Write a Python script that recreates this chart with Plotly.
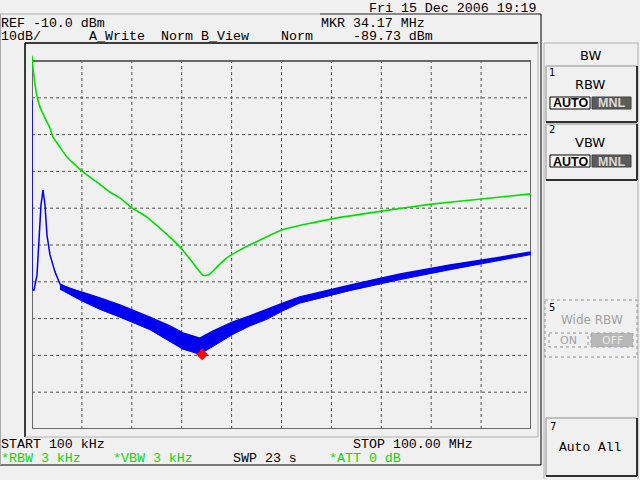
import plotly.graph_objects as go

green_freq = [0.1, 0.3, 1.04, 1.7, 2.7, 3.7, 4.3, 5.7, 7.1, 8.3, 10.1, 13.1, 15.7, 17.7,
              20.1, 23.1, 25.7, 28.3, 30.3, 32.3, 34.3, 35.1, 35.7, 37.1, 39.1, 41.7,
              50.1, 60.1, 70.1, 80.1, 90.1, 100.0]
green_dbm = [-8.6, -11.9, -19.2, -22.5, -25.5, -28.2, -30.7, -33.4, -36.1, -37.7, -39.9,
             -42.9, -45.6, -47.2, -49.9, -52.4, -55.4, -58.6, -61.4, -64.9, -68.2, -68.2,
             -67.9, -66.0, -63.5, -61.4, -55.9, -52.9, -50.8, -48.9, -47.5, -46.1]

blue_freq = [0.1, 0.1, 0.5, 1.1, 1.5, 1.9, 2.3, 2.7, 3.1, 3.7, 4.7, 5.7, 7.7, 10.1, 13.7,
             17.7, 23.7, 27.7, 30.3, 33.7, 36.3, 40.3, 43.7, 47.1, 50.3, 53.7, 63.7, 73.8,
             83.8, 93.8, 100.0]
blue_dbm = [-20.6, -72.2, -72.2, -68.2, -58.6, -49.1, -45.1, -49.1, -57.3, -62.7, -67.3,
            -70.6, -72.0, -72.8, -74.4, -76.3, -79.6, -82.0, -83.9, -85.3, -83.4, -80.9,
            -79.3, -77.4, -75.8, -74.1, -70.9, -67.9, -65.4, -63.3, -61.9]

band_freq = [5.7, 10.1, 13.7, 17.7, 23.7, 27.7, 30.3, 33.7, 36.3, 40.3, 43.7, 47.1, 50.3,
             53.7, 63.7, 73.8, 83.8, 93.8, 100.0]
band_upper = [-70.6, -72.8, -74.4, -76.3, -79.6, -82.0, -83.9, -85.3, -83.4, -80.9, -79.3,
              -77.4, -75.8, -74.1, -70.9, -67.9, -65.4, -63.3, -61.9]
band_lower = [-72.0, -75.2, -77.5, -79.6, -83.0, -86.3, -88.3, -89.7, -87.5, -84.3, -82.0,
              -80.2, -77.9, -75.8, -72.4, -69.4, -66.7, -64.2, -62.6]

marker_freq = [34.17]
marker_dbm = [-89.73]

start_mhz = 0.1
stop_mhz = 100.0
ref_dbm = -10.0
db_per_div = 10.0
n_div = 10

# ---------------- layout helpers ----------------
W, H = 640, 480
BG = "#f0f0f0"
GREEN = "#00e000"
BLUE = "#0000f0"
MONO = "Liberation Mono, DejaVu Sans Mono, monospace"
FS = 13.3


def px(x):
    return x / W


def py(y):
    return 1 - y / H


# plot area in pixels: grid 32..531 x 61..429, extra headroom to y=50
gx0, gx1, gy0, gy1, top_pix = 32, 531, 61, 429, 50
bottom_db = ref_dbm - n_div * db_per_div
y_top = bottom_db + (ref_dbm - bottom_db) * (gy1 - top_pix) / (gy1 - gy0)

fig = go.Figure()

fig.add_trace(go.Scatter(x=band_freq, y=band_upper, mode="lines",
                         line=dict(color=BLUE, width=0), hoverinfo="skip", showlegend=False))
fig.add_trace(go.Scatter(x=band_freq, y=band_lower, mode="lines", fill="tonexty",
                         fillcolor=BLUE, line=dict(color=BLUE, width=1),
                         hoverinfo="skip", showlegend=False))
fig.add_trace(go.Scatter(x=blue_freq, y=blue_dbm, mode="lines",
                         line=dict(color=BLUE, width=1.5), showlegend=False))
fig.add_trace(go.Scatter(x=green_freq, y=green_dbm, mode="lines",
                         line=dict(color=GREEN, width=1.6, shape="spline", smoothing=0.4),
                         showlegend=False))
fig.add_trace(go.Scatter(x=marker_freq, y=marker_dbm, mode="markers",
                         marker=dict(symbol="diamond", size=9, color="#ff0000"),
                         showlegend=False))

shapes = []
step = (stop_mhz - start_mhz) / n_div
for k in range(1, n_div):
    f = start_mhz + k * step
    shapes.append(dict(type="line", xref="x", yref="y", x0=f, x1=f, y0=bottom_db, y1=ref_dbm,
                       line=dict(color="#505050", width=1, dash="dot"), layer="below"))
    d = ref_dbm - k * db_per_div
    shapes.append(dict(type="line", xref="x", yref="y", x0=start_mhz, x1=stop_mhz, y0=d, y1=d,
                       line=dict(color="#505050", width=1, dash="dot"), layer="below"))
shapes.append(dict(type="rect", xref="x", yref="y", x0=start_mhz, x1=stop_mhz,
                   y0=bottom_db, y1=ref_dbm, line=dict(color="#686868", width=2), layer="below"))


def pline(x0, y0, x1, y1, color="black", width=1, dash="solid"):
    shapes.append(dict(type="line", xref="paper", yref="paper", x0=px(x0), y0=py(y0),
                       x1=px(x1), y1=py(y1), line=dict(color=color, width=width, dash=dash)))


def prect(x0, y0, x1, y1, color="black", width=1, fill="rgba(0,0,0,0)", dash="solid"):
    shapes.append(dict(type="rect", xref="paper", yref="paper", x0=px(x0), y0=py(y0),
                       x1=px(x1), y1=py(y1), fillcolor=fill,
                       line=dict(color=color, width=width, dash=dash)))


def box3d(x0, y0, x1, y1):
    pline(x0, y0, x1, y0, "#c0c0c0", 2)
    pline(x0, y0, x0, y1, "#c0c0c0", 2)
    pline(x0, y1, x1, y1, "#303030", 2)
    pline(x1, y0, x1, y1, "#303030", 2)


# screen frame lines
pline(0, 14, 320, 14, "#a8a8a8", 1)
pline(320, 14, 541, 14, "#202020", 1)
pline(541, 14, 541, 465, "black", 1)
pline(0, 465, 541, 465, "black", 1)
pline(0.5, 14, 0.5, 465, "#a8a8a8", 1)
pline(25, 43, 538, 43, "black", 1.5)
pline(25, 43, 25, 437, "black", 1.5)
pline(25, 437, 538, 437, "#b0b0b0", 1)
pline(538, 43, 538, 437, "#b0b0b0", 1)

# right-hand soft-key panel
pline(544, 43, 639, 43, "#b0b0b0", 1)
pline(544, 43, 544, 479, "#b0b0b0", 1)
pline(638, 43, 638, 479, "#b0b0b0", 1)
box3d(546, 66, 637, 122)
prect(550, 97, 590, 109, "black", 1, "#fafafa")
prect(592, 97, 631, 109, "#404040", 1, "#5c5c5c")
box3d(546, 124, 637, 180)
prect(550, 155, 590, 167, "black", 1, "#fafafa")
prect(592, 155, 631, 167, "#404040", 1, "#5c5c5c")
prect(545, 300, 637, 357, "#909090", 1, dash="dot")
prect(549, 333, 588, 347, "#909090", 1, dash="dot")
prect(591, 333, 633, 347, "#a0a0a0", 1, "#b8b8b8", dash="dot")
box3d(546, 418, 637, 476)

annotations = []


def txt(x, y, s, color="black", size=FS, anchor="left", family=MONO):
    annotations.append(dict(x=px(x), y=py(y), xref="paper", yref="paper", text=s,
                            showarrow=False, xanchor=anchor, yanchor="middle",
                            font=dict(family=family, size=size, color=color),
                            borderpad=0))


txt(368, 8, "Fri 15 Dec 2006 19:19")
txt(0, 23, "REF -10.0 dBm")
txt(0, 36.5, "10dB/")
txt(88, 36.5, "A_Write")
txt(160, 36.5, "Norm")
txt(200, 36.5, "B_View")
txt(280, 36.5, "Norm")
txt(320, 23, "MKR 34.17 MHz")
txt(352, 36.5, "-89.73 dBm")
txt(0, 444, "START 100 kHz")
txt(352, 444, "STOP 100.00 MHz")
txt(0, 458, "*RBW 3 kHz", GREEN)
txt(112, 458, "*VBW 3 kHz", GREEN)
txt(232, 458, "SWP 23 s")
txt(328, 458, "*ATT 0 dB", GREEN)

SANS = "DejaVu Sans, Liberation Sans, sans-serif"
BOLDF = "Liberation Sans, Arial, sans-serif"
txt(590, 55, "BW", size=13, anchor="center", family=SANS)
txt(548, 72, "1", size=10, family=SANS)
txt(590, 84, "RBW", size=13, anchor="center", family=SANS)
txt(570, 103.5, "<b>AUTO</b>", size=12.5, anchor="center", family=BOLDF)
txt(611, 103.5, "<b>MNL</b>", "#d8d8d8", size=12.5, anchor="center", family=BOLDF)
txt(548, 130, "2", size=10, family=SANS)
txt(590, 142, "VBW", size=13, anchor="center", family=SANS)
txt(570, 161.5, "<b>AUTO</b>", size=12.5, anchor="center", family=BOLDF)
txt(611, 161.5, "<b>MNL</b>", "#d8d8d8", size=12.5, anchor="center", family=BOLDF)
txt(548, 307, "5", size=10, family=SANS)
txt(592, 320, "Wide RBW", "#a0a0a0", size=12, anchor="center", family=SANS)
txt(568, 340, "ON", "#a0a0a0", size=11, anchor="center", family=SANS)
txt(612, 340, "OFF", "#e8e8e8", size=11, anchor="center", family=SANS)
txt(549, 426, "7", size=10, family=SANS)
txt(590, 447, "Auto All", size=13, anchor="center", family=MONO)

fig.update_layout(
    width=W, height=H,
    margin=dict(l=0, r=0, t=0, b=0),
    paper_bgcolor=BG, plot_bgcolor=BG,
    showlegend=False,
    hovermode=False,
    xaxis=dict(domain=[px(gx0), px(gx1)], range=[start_mhz, stop_mhz], visible=False,
               showgrid=False, zeroline=False),
    yaxis=dict(domain=[py(gy1), py(top_pix)], range=[bottom_db, y_top], visible=False,
               showgrid=False, zeroline=False),
    shapes=shapes,
    annotations=annotations,
)

fig.write_html("out.html",
               config={"displayModeBar": False},
               post_script="document.body.style.margin='0px';"
                           "document.body.style.overflow='hidden';"
                           "document.body.style.background='#f0f0f0';")
